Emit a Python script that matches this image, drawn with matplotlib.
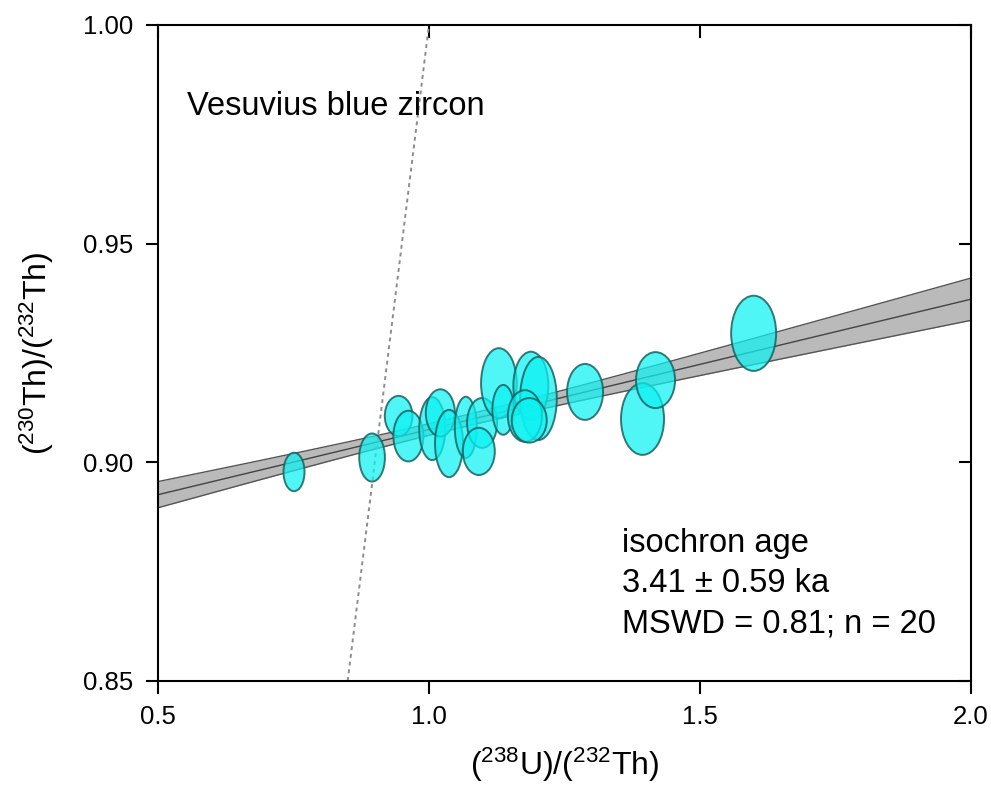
import numpy as np
import matplotlib
matplotlib.use("Agg")
import matplotlib.pyplot as plt
from matplotlib.patches import Ellipse
from matplotlib.lines import TICKDOWN, TICKLEFT

plt.rcParams['font.family'] = ['Liberation Sans', 'DejaVu Sans']
plt.rcParams['mathtext.default'] = 'regular'

# Zircon analyses: (238U)/(232Th), (230Th)/(232Th) and their ellipse half-axes
u_th = [0.751, 0.895, 0.944, 0.962, 1.006, 1.021, 1.037, 1.068, 1.098, 1.092,
        1.129, 1.137, 1.188, 1.202, 1.177, 1.185, 1.288, 1.394, 1.418, 1.599]
th_th = [0.8978, 0.9011, 0.9106, 0.9060, 0.9077, 0.9113, 0.9043, 0.9080, 0.9090, 0.9025,
         0.9181, 0.9120, 0.9175, 0.9146, 0.9106, 0.9096, 0.9161, 0.9099, 0.9188, 0.9295]
u_th_err = [0.0194, 0.0237, 0.0255, 0.0277, 0.0240, 0.0268, 0.0258, 0.0203, 0.0277, 0.0295,
            0.0329, 0.0200, 0.0323, 0.0338, 0.0314, 0.0323, 0.0332, 0.0397, 0.0360, 0.0415]
th_th_err = [0.0044, 0.0055, 0.0046, 0.0058, 0.0072, 0.0054, 0.0077, 0.0070, 0.0057, 0.0054,
             0.0080, 0.0057, 0.0078, 0.0095, 0.0059, 0.0051, 0.0064, 0.0082, 0.0064, 0.0086]

# Isochron fit and its error envelope
slope = 0.0298
intercept = 0.8777
env_a, env_b, env_x0 = 0.0013, 0.0049, 1.05

age_lines = ["isochron age", "3.41 \u00b1 0.59 ka", "MSWD = 0.81; n = 20"]
x_ticks = [0.5, 1.0, 1.5, 2.0]
y_ticks = [0.85, 0.90, 0.95, 1.00]

fig = plt.figure(figsize=(9.91, 7.86), dpi=100)
ax = fig.add_axes([0.1594, 0.1336, 0.8204, 0.8346])

xs = np.linspace(0.5, 2.0, 200)
fit = intercept + slope * xs
half = np.sqrt(env_a**2 + (env_b * (xs - env_x0))**2)
ax.fill_between(xs, fit - half, fit + half, color='#bababa', lw=0, zorder=1)
ax.plot(xs, fit - half, color='#555555', lw=1.0, zorder=2)
ax.plot(xs, fit + half, color='#555555', lw=1.0, zorder=2)
ax.plot(xs, fit, color='#444444', lw=1.0, zorder=2)

# equiline
ax.plot([0.85, 1.0], [0.85, 1.0], color='#8c8c8c', lw=1.4, ls=(0, (2, 2)), zorder=2)

for x, y, ex, ey in zip(u_th, th_th, u_th_err, th_th_err):
    e = Ellipse((x, y), 2 * ex, 2 * ey, facecolor=(0.05, 0.95, 0.95, 0.72),
                edgecolor=(0.1, 0.38, 0.38, 0.85), lw=1.4, zorder=3)
    ax.add_patch(e)

ax.set_xlim(0.5, 2.0)
ax.set_ylim(0.85, 1.0)
ax.set_xticks(x_ticks)
ax.set_yticks(y_ticks)
ax.set_xticklabels([f"{v:.1f}" for v in x_ticks], fontsize=18.5)
ax.set_yticklabels([f"{v:.2f}" for v in y_ticks], fontsize=18.5)

for s in ax.spines.values():
    s.set_linewidth(1.5)
ax.tick_params(axis='both', which='major', direction='out', length=9, width=1.5, pad=8.5,
               top=True, right=True)
# top/right ticks point inward
for t in ax.xaxis.get_major_ticks():
    t.tick2line.set_marker(TICKDOWN)
for t in ax.yaxis.get_major_ticks():
    t.tick2line.set_marker(TICKLEFT)

ax.set_xlabel(r'($^{238}$U)/($^{232}$Th)', fontsize=23, labelpad=12)
ax.set_ylabel(r'($^{230}$Th)/($^{232}$Th)', fontsize=23, labelpad=20)

ax.text(0.554, 0.9794, "Vesuvius blue zircon", fontsize=23.5, ha='left', va='baseline')
for i, line in enumerate(age_lines):
    ax.text(1.3555, 0.87957 - i * 0.00926, line, fontsize=23.5, ha='left', va='baseline')

plt.savefig("out.png", dpi=100)
